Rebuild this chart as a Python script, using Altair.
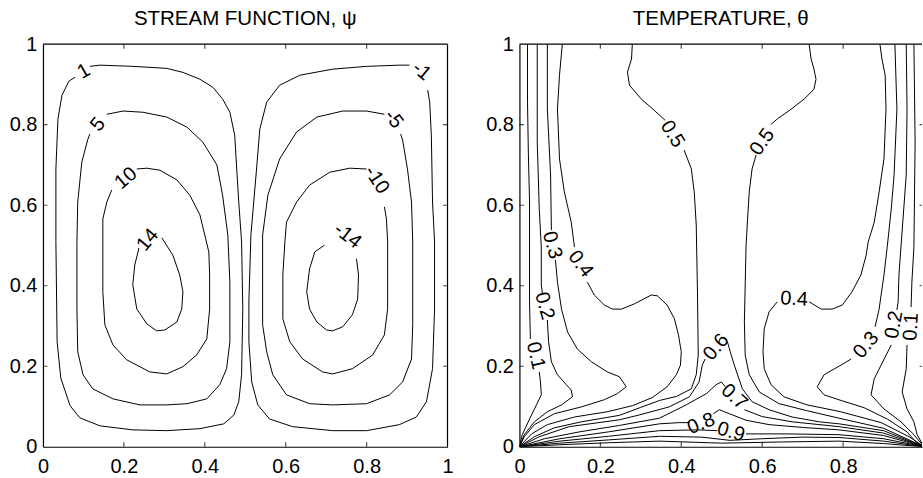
import altair as alt
import pandas as pd

FONT = "Liberation Sans"

# ---------------- axis tick values ----------------
AXIS_VALUES = [0, 0.2, 0.4, 0.6, 0.8, 1]
RIGHT_X_VALUES = [0, 0.2, 0.4, 0.6, 0.8]
TICK_MARKS = [0.2, 0.4, 0.6, 0.8]

TITLE_LEFT = "STREAM FUNCTION, ψ"
TITLE_RIGHT = "TEMPERATURE, θ"

# ---------------- stream function contours (x, y) ----------------
PSI_P1 = [(0.116,0.945),(0.141,0.948),(0.222,0.945),(0.306,0.940),(0.346,0.930),(0.388,0.913),
          (0.420,0.893),(0.444,0.864),(0.462,0.831),(0.474,0.774),(0.479,0.690),(0.484,0.608),
          (0.491,0.509),(0.494,0.342),(0.491,0.179),(0.484,0.112),(0.472,0.079),(0.447,0.057),
          (0.388,0.045),(0.306,0.040),(0.222,0.042),(0.141,0.052),(0.091,0.072),(0.067,0.102),
          (0.044,0.171),(0.035,0.261),(0.032,0.509),(0.032,0.690),(0.037,0.814),(0.047,0.873),
          (0.064,0.908),(0.079,0.918)]
PSI_P5 = [(0.158,0.826),(0.198,0.834),(0.247,0.831),(0.306,0.819),(0.356,0.794),(0.395,0.757),
          (0.430,0.700),(0.444,0.625),(0.457,0.526),(0.462,0.409),(0.462,0.261),(0.454,0.194),
          (0.437,0.154),(0.405,0.119),(0.356,0.107),(0.306,0.104),(0.240,0.104),(0.173,0.119),
          (0.123,0.144),(0.099,0.179),(0.086,0.236),(0.084,0.342),(0.084,0.509),(0.086,0.608),
          (0.096,0.707),(0.111,0.764),(0.116,0.777)]
PSI_P10 = [(0.232,0.690),(0.257,0.692),(0.289,0.687),(0.331,0.663),(0.363,0.625),(0.388,0.576),
           (0.400,0.526),(0.410,0.484),(0.412,0.427),(0.412,0.342),(0.405,0.268),(0.380,0.228),
           (0.346,0.199),(0.306,0.181),(0.264,0.186),(0.207,0.216),(0.173,0.253),(0.153,0.303),
           (0.148,0.385),(0.148,0.509),(0.148,0.566),(0.158,0.608),(0.170,0.638)]
PSI_P14 = [(0.294,0.519),(0.321,0.476),(0.338,0.427),(0.346,0.385),(0.343,0.342),(0.331,0.310),
           (0.301,0.290),(0.281,0.288),(0.257,0.305),(0.232,0.342),(0.222,0.402),(0.227,0.452),
           (0.235,0.484),(0.237,0.494)]
PSI_N1 = [(0.906,0.948),(0.881,0.948),(0.800,0.945),(0.716,0.938),(0.635,0.923),(0.585,0.898),
          (0.553,0.856),(0.536,0.789),(0.528,0.690),(0.514,0.526),(0.509,0.360),(0.509,0.261),
          (0.516,0.161),(0.531,0.104),(0.560,0.069),(0.617,0.050),(0.716,0.040),(0.800,0.040),
          (0.881,0.055),(0.923,0.074),(0.948,0.112),(0.963,0.194),(0.968,0.342),(0.968,0.509),
          (0.963,0.608),(0.960,0.774),(0.956,0.856),(0.951,0.886)]
PSI_N5 = [(0.844,0.826),(0.800,0.834),(0.741,0.834),(0.677,0.819),(0.627,0.782),(0.585,0.715),
          (0.556,0.625),(0.543,0.526),(0.543,0.303),(0.553,0.236),(0.568,0.179),(0.602,0.129),
          (0.659,0.107),(0.716,0.104),(0.800,0.107),(0.857,0.129),(0.889,0.161),(0.911,0.218),
          (0.914,0.303),(0.914,0.509),(0.911,0.608),(0.901,0.690),(0.889,0.762),(0.884,0.777)]
PSI_N10 = [(0.800,0.690),(0.758,0.692),(0.709,0.682),(0.659,0.650),(0.627,0.608),(0.602,0.558),
           (0.598,0.509),(0.593,0.427),(0.593,0.318),(0.610,0.261),(0.642,0.218),(0.691,0.186),
           (0.716,0.181),(0.765,0.194),(0.815,0.228),(0.844,0.278),(0.852,0.342),(0.852,0.509),
           (0.849,0.566),(0.844,0.596)]
PSI_N14 = [(0.696,0.501),(0.672,0.484),(0.659,0.442),(0.652,0.385),(0.659,0.342),(0.677,0.310),
           (0.701,0.290),(0.716,0.288),(0.741,0.298),(0.765,0.328),(0.778,0.367),(0.780,0.427),
           (0.775,0.467)]

PSI_LABELS = [("1",0.101,0.933,-30),("5",0.136,0.801,-50),("10",0.205,0.667,-40),("14",0.259,0.514,-50),
              ("-1",0.936,0.933,40),("-5",0.867,0.814,52),("-10",0.825,0.663,56),("-14",0.753,0.524,38)]

# ---------------- temperature contours (x, y) ----------------
T01_L_A = [(0.020,1.0),(0.020,0.856),(0.022,0.732),(0.025,0.608),(0.025,0.360),(0.027,0.268)]
T01_L_B = [(0.049,0.186),(0.052,0.161),(0.054,0.129),(0.042,0.104),(0.025,0.069),(0.007,0.030),(0.0,0.0)]
T02_L_A = [(0.044,1.0),(0.044,0.757),(0.049,0.591),(0.054,0.496),(0.054,0.402),(0.057,0.380)]
T02_L_B = [(0.069,0.315),(0.072,0.261),(0.079,0.211),(0.094,0.179),(0.116,0.154),(0.128,0.141),
           (0.131,0.124),(0.104,0.104),(0.069,0.087),(0.037,0.062),(0.012,0.030),(0.0,0.0)]
T03_L_A = [(0.069,1.0),(0.069,0.839),(0.077,0.675),(0.079,0.538)]
T03_L_B = [(0.089,0.464),(0.094,0.409),(0.104,0.342),(0.119,0.285),(0.143,0.243),(0.178,0.211),
           (0.217,0.186),(0.247,0.174),(0.264,0.149),(0.242,0.132),(0.210,0.117),(0.153,0.099),
           (0.086,0.082),(0.037,0.055),(0.012,0.025),(0.0,0.0)]
T04_L_A = [(0.106,1.0),(0.099,0.923),(0.094,0.839),(0.099,0.715),(0.111,0.633),(0.128,0.558),(0.136,0.496)]
T04_L_B = [(0.168,0.409),(0.185,0.377),(0.210,0.352),(0.230,0.342),(0.252,0.342),(0.284,0.355),
           (0.326,0.377),(0.341,0.375),(0.365,0.352),(0.383,0.318),(0.393,0.278),(0.400,0.236),
           (0.398,0.203),(0.388,0.179),(0.365,0.149),(0.328,0.122),(0.279,0.102),(0.217,0.087),
           (0.136,0.074),(0.069,0.055),(0.030,0.032),(0.0,0.0)]
T05_L_A = [(0.279,1.0),(0.277,0.963),(0.267,0.931),(0.272,0.898),(0.301,0.864),(0.333,0.836),(0.360,0.811)]
T05_L_B = [(0.407,0.737),(0.425,0.690),(0.432,0.633),(0.437,0.551),(0.440,0.385),(0.442,0.228),
           (0.437,0.179),(0.425,0.144),(0.388,0.125),(0.346,0.115),(0.300,0.098),(0.247,0.078),
           (0.153,0.062),(0.086,0.047),(0.037,0.025),(0.0,0.0)]
T06_A = [(0.0,0.0),(0.049,0.025),(0.123,0.050),(0.247,0.067),(0.296,0.079),(0.370,0.099),
         (0.420,0.124),(0.444,0.161),(0.452,0.203),(0.459,0.218)]
T06_B = [(0.514,0.261),(0.521,0.236),(0.531,0.203),(0.551,0.144),(0.575,0.112),(0.617,0.092),
         (0.674,0.074),(0.741,0.062),(0.790,0.057),(0.900,0.040),(1.0,0.0)]
T07_A = [(0.0,0.0),(0.062,0.020),(0.148,0.037),(0.247,0.053),(0.346,0.071),(0.412,0.104),
         (0.462,0.132),(0.486,0.154),(0.499,0.161),(0.509,0.149)]
T07_B = [(0.556,0.092),(0.600,0.075),(0.674,0.062),(0.790,0.050),(0.900,0.034),(1.0,0.0)]
T08_A = [(0.0,0.0),(0.100,0.020),(0.220,0.037),(0.346,0.057),(0.395,0.060),(0.420,0.060)]
T08_B = [(0.479,0.082),(0.494,0.092),(0.519,0.082),(0.560,0.066),(0.617,0.055),(0.700,0.048),
         (0.790,0.042),(0.900,0.028),(1.0,0.0)]
T09_A = [(0.0,0.0),(0.100,0.014),(0.220,0.026),(0.346,0.040),(0.440,0.042),(0.489,0.040)]
T09_B = [(0.560,0.032),(0.660,0.032),(0.790,0.030),(0.900,0.020),(1.0,0.0)]
T_E1 = [(0.0,0.0),(0.100,0.009),(0.220,0.017),(0.346,0.026),(0.450,0.024),(0.520,0.016),
        (0.600,0.020),(0.700,0.024),(0.790,0.023),(0.900,0.014),(1.0,0.0)]
T_E2 = [(0.0,0.0),(0.100,0.005),(0.220,0.010),(0.346,0.014),(0.500,0.009),(0.650,0.012),
        (0.790,0.014),(0.900,0.008),(1.0,0.0)]
T05_R_A = [(0.716,1.0),(0.721,0.963),(0.728,0.938),(0.733,0.913),(0.728,0.888),(0.704,0.864),
           (0.672,0.839),(0.637,0.814),(0.622,0.801)]
T05_R_B = [(0.585,0.725),(0.575,0.690),(0.568,0.633),(0.563,0.551),(0.560,0.496),(0.556,0.310),
           (0.558,0.228),(0.568,0.179),(0.593,0.136),(0.642,0.107),(0.709,0.090),(0.790,0.071),
           (0.900,0.046),(1.0,0.0)]
T04_R_A = [(0.891,1.0),(0.896,0.963),(0.904,0.923),(0.906,0.839),(0.901,0.715),(0.889,0.633),
           (0.877,0.558),(0.862,0.509),(0.857,0.476),(0.844,0.427),(0.822,0.385),(0.798,0.352),
           (0.773,0.342),(0.746,0.342),(0.716,0.360)]
T04_R_B = [(0.637,0.360),(0.617,0.335),(0.605,0.293),(0.602,0.236),(0.605,0.194),(0.622,0.154),
           (0.654,0.124),(0.711,0.104),(0.790,0.088),(0.894,0.060),(0.963,0.025),(1.0,0.0)]
T03_R_A = [(0.928,1.0),(0.933,0.839),(0.926,0.675),(0.919,0.591),(0.909,0.496),(0.901,0.427),
           (0.889,0.342),(0.879,0.298)]
T03_R_B = [(0.820,0.218),(0.795,0.203),(0.753,0.179),(0.736,0.149),(0.753,0.129),(0.795,0.115),
           (0.852,0.097),(0.909,0.069),(0.958,0.037),(0.980,0.012),(1.0,0.0)]
T02_R_A = [(0.956,1.0),(0.958,0.839),(0.956,0.675),(0.943,0.496),(0.938,0.427),(0.936,0.360),(0.933,0.340)]
T02_R_B = [(0.919,0.253),(0.894,0.203),(0.877,0.169),(0.869,0.129),(0.901,0.094),(0.943,0.062),
           (0.975,0.030),(1.0,0.0)]
T01_R_A = [(0.975,1.0),(0.978,0.757),(0.975,0.496),(0.970,0.409),(0.968,0.347)]
T01_R_B = [(0.958,0.253),(0.956,0.194),(0.946,0.136),(0.958,0.094),(0.975,0.062),(0.983,0.030),(1.0,0.0)]

THETA_LABELS = [("0.1",0.040,0.226,77),("0.2",0.062,0.350,74),("0.3",0.081,0.501,75),("0.4",0.151,0.454,53),
                ("0.5",0.378,0.777,58),("0.5",0.600,0.757,-55),("0.6",0.486,0.248,-50),("0.7",0.531,0.124,42),
                ("0.8",0.449,0.057,-22),("0.9",0.523,0.037,16),("0.4",0.679,0.367,3),("0.3",0.857,0.253,-50),
                ("0.2",0.926,0.303,-80),("0.1",0.968,0.298,-87)]

PSI_LINES = {"p1": PSI_P1, "p5": PSI_P5, "p10": PSI_P10, "p14": PSI_P14,
             "n1": PSI_N1, "n5": PSI_N5, "n10": PSI_N10, "n14": PSI_N14}
THETA_LINES = {"t01la": T01_L_A, "t01lb": T01_L_B, "t02la": T02_L_A, "t02lb": T02_L_B,
               "t03la": T03_L_A, "t03lb": T03_L_B, "t04la": T04_L_A, "t04lb": T04_L_B,
               "t05la": T05_L_A, "t05lb": T05_L_B, "t06a": T06_A, "t06b": T06_B,
               "t07a": T07_A, "t07b": T07_B, "t08a": T08_A, "t08b": T08_B,
               "t09a": T09_A, "t09b": T09_B, "te1": T_E1, "te2": T_E2,
               "t05ra": T05_R_A, "t05rb": T05_R_B,
               "t04ra": T04_R_A, "t04rb": T04_R_B, "t03ra": T03_R_A, "t03rb": T03_R_B,
               "t02ra": T02_R_A, "t02rb": T02_R_B, "t01ra": T01_R_A, "t01rb": T01_R_B}


def lines_frame(lines):
    rows = []
    for name, pts in lines.items():
        for i, (x, y) in enumerate(pts):
            rows.append({"seg": name, "i": i, "x": x, "y": y})
    return pd.DataFrame(rows)


def labels_frame(labels):
    return pd.DataFrame([{"t": t, "x": x, "y": y, "a": a % 360} for t, x, y, a in labels])


def panel(lines, labels, title, xmax, width, xvals, right_rule):
    xs = alt.Scale(domain=[0, xmax], nice=False, zero=False)
    ys = alt.Scale(domain=[0, 1], nice=False, zero=False)
    xaxis = alt.Axis(values=xvals, format="~g", title=None, ticks=False, grid=False,
                     labelPadding=10, labelFlush=False)
    yaxis = alt.Axis(values=AXIS_VALUES, format="~g", title=None, ticks=False, grid=False,
                     labelPadding=6, labelFlush=False)
    X = alt.X("x:Q", scale=xs, axis=xaxis)
    Y = alt.Y("y:Q", scale=ys, axis=yaxis)

    line_layer = alt.Chart(lines_frame(lines)).mark_line(
        color="black", strokeWidth=1, clip=True
    ).encode(x=X, y=Y, detail="seg:N", order="i:Q")

    text_layer = alt.Chart(labels_frame(labels)).mark_text(
        font=FONT, fontSize=20, color="black", align="center", baseline="middle"
    ).encode(x=X, y=Y, text="t:N", angle=alt.Angle("a:Q", scale=None))

    vt = pd.DataFrame([{"x": t, "y": e} for t in TICK_MARKS for e in (0, 1)])
    ht = pd.DataFrame([{"x": e, "y": t} for t in TICK_MARKS for e in (0, 1)])
    vticks = alt.Chart(vt).mark_tick(orient="vertical", size=9, thickness=1.2,
                                     color="black", clip=True).encode(x=X, y=Y)
    hticks = alt.Chart(ht).mark_tick(orient="horizontal", size=9, thickness=1.2,
                                     color="black", clip=True).encode(x=X, y=Y)

    one = pd.DataFrame({"v": [1]})
    top_rule = alt.Chart(one).mark_rule(color="black", strokeWidth=1.2).encode(
        y=alt.Y("v:Q", scale=ys, axis=yaxis))
    layers = [line_layer, text_layer, vticks, hticks, top_rule]
    if right_rule:
        layers.append(alt.Chart(one).mark_rule(color="black", strokeWidth=1.2).encode(
            x=alt.X("v:Q", scale=xs, axis=xaxis)))

    return alt.layer(*layers).properties(
        width=width, height=403,
        title=alt.TitleParams(title, font=FONT, fontSize=20.5, fontWeight="normal",
                              color="black", anchor="middle", offset=5),
    )


left = panel(PSI_LINES, PSI_LABELS, TITLE_LEFT, 1, 405, AXIS_VALUES, True)
right = panel(THETA_LINES, THETA_LABELS, TITLE_RIGHT, 0.995, 403, RIGHT_X_VALUES, False)

chart = alt.hconcat(left, right, spacing=72, bounds="flush").properties(
    padding={"left": 9, "top": 8, "right": 0, "bottom": 0}
).configure_view(stroke=None).configure_axis(
    labelFont=FONT, labelFontSize=20, labelColor="black",
    domainColor="black", domainWidth=1.2,
)

chart.save("out.html", embed_options={"renderer": "svg", "actions": False})
